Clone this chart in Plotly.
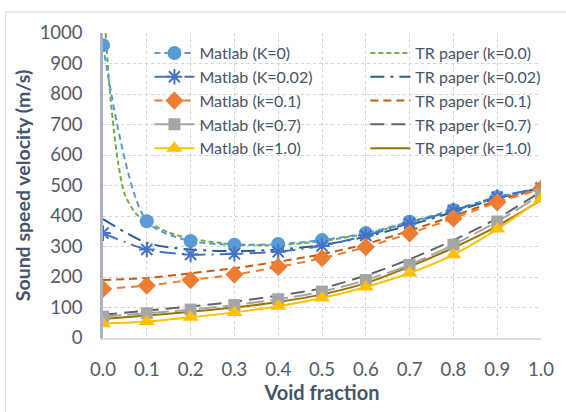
import plotly.graph_objects as go

void = [0.0, 0.1, 0.2, 0.3, 0.4, 0.5, 0.6, 0.7, 0.8, 0.9, 1.0]

matlab_k0 = [960, 383, 318, 306, 308, 321, 344, 381, 420, 462, 490]
matlab_k002 = [344, 290, 274, 276, 283, 302, 336, 376, 418, 462, 492]
matlab_k01 = [161, 172, 190, 208, 233, 262, 298, 343, 392, 445, 488]
matlab_k07 = [70, 81, 93, 108, 127, 152, 190, 240, 306, 382, 470]
matlab_k10 = [47, 54, 68, 84, 104, 131, 167, 213, 273, 357, 456]

tr_k0_x = [0.006, 0.015, 0.025, 0.035, 0.05, 0.075, 0.1, 0.15, 0.2, 0.3, 0.4, 0.5, 0.6, 0.7, 0.8, 0.9, 1.0]
tr_k0 = [1000, 820, 680, 570, 470, 408, 383, 346, 326, 307, 305, 318, 342, 378, 418, 458, 490]
tr_k002 = [390, 312, 290, 285, 290, 305, 332, 370, 413, 458, 492]
tr_k01 = [190, 197, 212, 229, 250, 275, 308, 352, 400, 450, 490]
tr_k07 = [76, 90, 103, 119, 139, 163, 205, 258, 321, 392, 480]
tr_k10 = [62, 74, 86, 100, 118, 143, 180, 234, 296, 367, 452]

matlab_names = ["Matlab (K=0)", "Matlab (K=0.02)", "Matlab (k=0.1)", "Matlab (k=0.7)", "Matlab (k=1.0)"]
tr_names = ["TR paper (k=0.0)", "TR paper (k=0.02)", "TR paper (k=0.1)", "TR paper (k=0.7)", "TR paper (k=1.0)"]

fig = go.Figure()

tr_series = [
    (tr_k0_x, tr_k0, "#70AD47", "5px,3px"),
    (void, tr_k002, "#255E91", "14px,6px,3px,6px"),
    (void, tr_k01, "#C55A11", "8px,5px"),
    (void, tr_k07, "#636363", "14px,7px"),
    (void, tr_k10, "#997300", "solid"),
]
m_series = [
    (matlab_k0, "#5B9BD5", "6px,4px", "circle", 14),
    (matlab_k002, "#4472C4", "16px,6px,2px,6px", "asterisk-open", 13),
    (matlab_k01, "#ED7D31", "8px,6px", "diamond", 14),
    (matlab_k07, "#A5A5A5", "18px,6px", "square", 12),
    (matlab_k10, "#FFC000", "solid", "triangle-up", 14),
]

for (xs, ys, col, dash), name in zip(tr_series, tr_names):
    fig.add_trace(go.Scatter(
        x=xs, y=ys, name=name, mode="lines", legend="legend2",
        line=dict(color=col, width=2, dash=dash, shape="spline", smoothing=0.8),
    ))

for (ys, col, dash, sym, size), name in zip(m_series, matlab_names):
    mk = dict(symbol=sym, size=size, color=col)
    if sym == "asterisk-open":
        mk["line"] = dict(color=col, width=2)
    fig.add_trace(go.Scatter(
        x=void, y=ys, name=name, mode="lines+markers", legend="legend",
        line=dict(color=col, width=2, dash=dash, shape="spline", smoothing=0.8),
        marker=mk,
    ))

tick_font = dict(family="Lato", size=18.5, color="#505A6A")
xtitle_font = dict(family="Lato", size=20, color="#44546A")
ytitle_font = dict(family="Lato", size=19.5, color="#44546A")
leg_font = dict(family="Lato", size=16, color="#44546A")

fig.update_layout(
    width=566, height=412,
    margin=dict(l=103, r=23, t=33, b=74),
    paper_bgcolor="white", plot_bgcolor="white",
    font=dict(family="Lato", color="#44546A"),
    xaxis=dict(
        range=[0, 1.0], dtick=0.1, tickformat=".1f",
        showgrid=True, gridcolor="#D0D5DD", griddash="dot", gridwidth=1,
        showline=True, linecolor="#D9D9D9", linewidth=2,
        zeroline=False, ticks="", tickfont=tick_font, ticklabelstandoff=14,
        title=dict(text="<b>Void fraction</b>", font=xtitle_font, standoff=4),
    ),
    yaxis=dict(
        range=[0, 1000], dtick=100,
        showgrid=True, gridcolor="#D0D5DD", griddash="dot", gridwidth=1,
        showline=True, linecolor="#A9B1C2", linewidth=2.5,
        zeroline=False, ticks="", tickfont=tick_font, ticklabelstandoff=14,
        title=dict(text="<b>Sound speed velocity (m/s)</b>", font=ytitle_font, standoff=4),
    ),
    legend=dict(
        x=0.106, y=0.99, xanchor="left", yanchor="top",
        bgcolor="rgba(0,0,0,0)", font=leg_font, itemwidth=40,
    ),
    legend2=dict(
        x=0.599, y=0.99, xanchor="left", yanchor="top",
        bgcolor="rgba(0,0,0,0)", font=leg_font, itemwidth=40,
    ),
    shapes=[dict(
        type="rect", xref="paper", yref="paper",
        x0=(5 - 103) / 440, x1=(580 - 103) / 440,
        y0=(338 - 420) / 305, y1=(338 - 12) / 305,
        line=dict(color="#D9D9D9", width=1), layer="below",
    )],
)

fig.write_html("out.html")
